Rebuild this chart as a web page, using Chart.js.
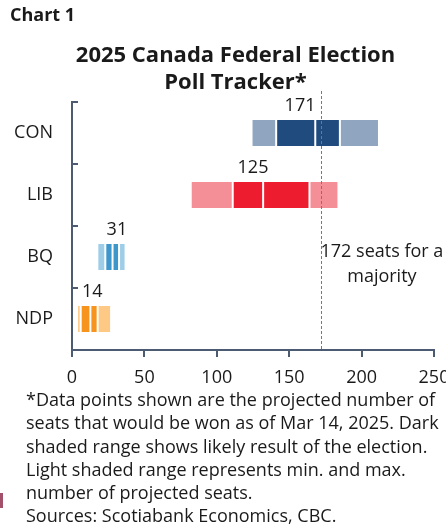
<!DOCTYPE html>
<html>
<head>
<meta charset="utf-8">
<title>2025 Canada Federal Election Poll Tracker</title>
<script src="https://cdn.jsdelivr.net/npm/chart.js@4.4.1/dist/chart.umd.min.js"></script>
<style>
  html, body { margin: 0; padding: 0; background: #fff; }
  body { width: 446px; height: 531px; overflow: hidden; position: relative; font-family: "Open Sans", sans-serif; color: #1a1a1a; }
  #wrap { position: absolute; left: 0; top: 0; width: 450px; height: 531px; }
  #kicker { position: absolute; left: 10px; top: 2px; font-size: 18px; font-weight: 700; line-height: 24px; }
  #title { position: absolute; left: 0; top: 40px; width: 471px; text-align: center; font-size: 22px; font-weight: 700; line-height: 27px; }
  #notes { position: absolute; left: 26px; top: 388px; font-size: 18px; line-height: 23.3px; white-space: nowrap; }
  #mark { position: absolute; left: 0; top: 493px; width: 3px; height: 15px; background: #a3506b; }
</style>
</head>
<body>
<div id="wrap"><canvas id="chart"></canvas></div>
<div id="kicker">Chart 1</div>
<div id="title">2025 Canada Federal Election<br>Poll Tracker*</div>
<div id="notes">*Data points shown are the projected number of<br>seats that would be won as of Mar 14, 2025. Dark<br>shaded range shows likely result of the election.<br>Light shaded range represents min. and max.<br>number of projected seats.<br>Sources: Scotiabank Economics, CBC.</div>
<div id="mark"></div>
<script>
// seats
const parties = ["CON", "LIB", "BQ", "NDP"];
const seatMin = [124, 82, 17.5, 3.5];
const likelyLow = [141, 111, 23, 6];
const seatMid = [168, 132, 28, 12.7];
const likelyHigh = [185, 164, 32.5, 17.7];
const seatMax = [212, 184, 37, 27];
const projected = [171, 125, 31, 14];
const majority = 172;
const majorityText = ["172 seats for a", "majority"];
const xTicks = [0, 50, 100, 150, 200, 250];

const darkColors = ["#1f4b7e", "#ee1c2f", "#3d97ca", "#f7941d"];
const lightColors = ["#8fa5c0", "#f48e97", "#9ecde7", "#fec985"];
const axisColor = "#4c5b72";
const textColor = "#1a1a1a";
const font = { family: "'Open Sans', sans-serif", size: 18 };

function range(lo, hi) {
  return parties.map((p, i) => [lo[i], hi[i]]);
}

function segment(data, colors) {
  return {
    data: data,
    backgroundColor: colors,
    borderColor: "#fff",
    borderWidth: 1,
    borderSkipped: false,
    grouped: false,
    barPercentage: 0.45,
    categoryPercentage: 1,
  };
}

const extras = {
  id: "extras",
  afterDatasetsDraw(chart) {
    const ctx = chart.ctx,
      x = chart.scales.x,
      y = chart.scales.y,
      area = chart.chartArea,
      xLine = Math.round(x.getPixelForValue(majority)) + 0.5;

    ctx.save();
    ctx.strokeStyle = "#6b7a90";
    ctx.lineWidth = 1;
    ctx.setLineDash([3, 2]);
    ctx.beginPath();
    ctx.moveTo(xLine, area.top - 11);
    ctx.lineTo(xLine, area.bottom);
    ctx.stroke();
    ctx.setLineDash([]);

    ctx.font = "18px 'Open Sans', sans-serif";
    ctx.fillStyle = textColor;
    ctx.textBaseline = "middle";
    ctx.textAlign = "center";

    projected.forEach((v, i) => {
      const w = ctx.measureText(String(v)).width;
      let cx = x.getPixelForValue(v);
      // keep the label clear of the majority line
      if (cx - w / 2 < xLine + 4 && cx + w / 2 > xLine - 4) cx = xLine - 6 - w / 2;
      ctx.fillText(String(v), cx, y.getPixelForValue(i) - 27);
    });

    const w1 = ctx.measureText(majorityText[0]).width,
      tx = xLine - 1 + w1 / 2,
      ty = y.getPixelForValue(2);
    ctx.fillText(majorityText[0], tx, ty - 5);
    ctx.fillText(majorityText[1], tx, ty + 20);
    ctx.restore();
  },
};

new Chart(document.getElementById("chart"), {
  type: "bar",
  data: {
    labels: parties,
    datasets: [
      segment(range(seatMin, likelyLow), lightColors),
      segment(range(likelyLow, seatMid), darkColors),
      segment(range(seatMid, likelyHigh), darkColors),
      segment(range(likelyHigh, seatMax), lightColors),
    ],
  },
  options: {
    indexAxis: "y",
    responsive: true,
    maintainAspectRatio: false,
    animation: false,
    layout: { padding: { left: 14, top: 102, right: 16, bottom: 141 } },
    plugins: { legend: { display: false }, tooltip: { enabled: false } },
    scales: {
      x: {
        min: 0,
        max: 250,
        afterBuildTicks: (s) => { s.ticks = xTicks.map((v) => ({ value: v })); },
        afterFit: (s) => {
          s.height = 40;
          // let the last label run off the edge, as in the original
          s.paddingLeft = 0;
          s.paddingRight = 0;
        },
        grid: { drawOnChartArea: false, tickLength: 7, color: axisColor, lineWidth: 2 },
        border: { color: axisColor, width: 2 },
        ticks: { font: font, color: textColor, padding: 10, maxRotation: 0 },
      },
      y: {
        afterFit: (s) => { s.width = 58; },
        grid: { drawOnChartArea: false, offset: true, tickLength: -6, color: axisColor, lineWidth: 2 },
        border: { color: axisColor, width: 2 },
        ticks: { font: font, color: textColor, padding: 25 },
      },
    },
  },
  plugins: [extras],
});
</script>
</body>
</html>
